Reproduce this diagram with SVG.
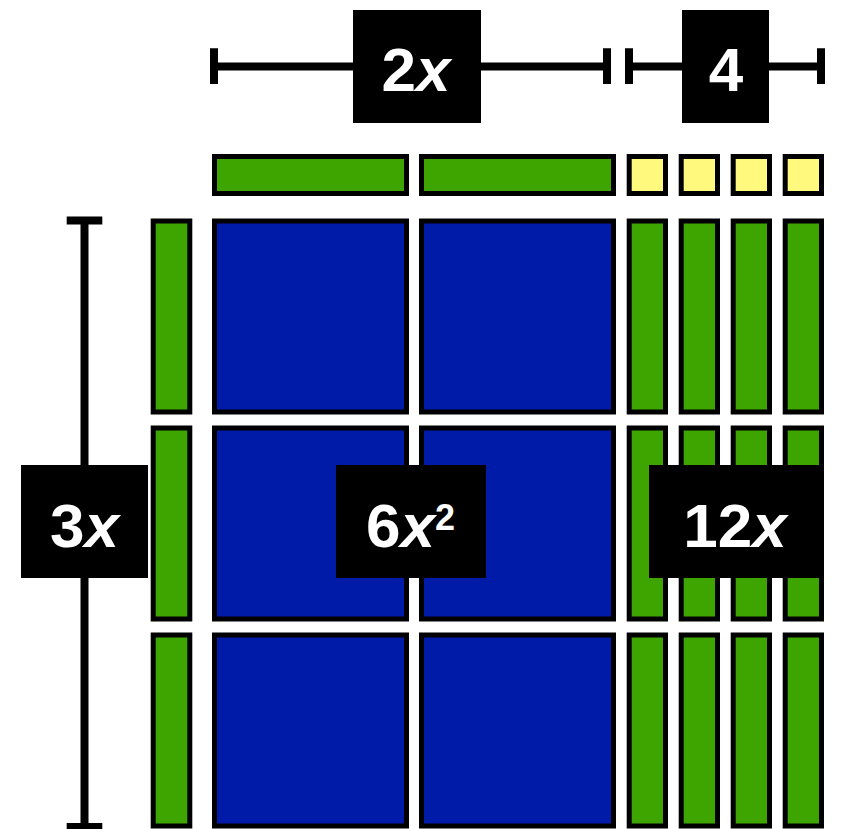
<svg xmlns="http://www.w3.org/2000/svg" width="842" height="829" viewBox="0 0 842 829">
<style>
.g{fill:#3EA500;stroke:#000;stroke-width:5}
.b{fill:#001BA8;stroke:#000;stroke-width:5}
.y{fill:#FFFA7D;stroke:#000;stroke-width:5}
.dim{stroke:#000;stroke-width:8;fill:none}
.lab{fill:#000}
.t{font-family:"Liberation Sans",Arial,sans-serif;font-weight:bold;font-size:62px;fill:#fff;text-anchor:middle}
.i{font-style:italic}
</style>
<rect width="842" height="829" fill="#fff"/>
<g id="tiles">
<g id="top-row">
<rect class="g" x="214.5" y="156.5" width="192" height="37"/>
<rect class="g" x="421.5" y="156.5" width="192" height="37"/>
<rect class="y" x="629.2" y="156.5" width="36.3" height="37"/>
<rect class="y" x="681.2" y="156.5" width="36.3" height="37"/>
<rect class="y" x="733.2" y="156.5" width="36.3" height="37"/>
<rect class="y" x="785.2" y="156.5" width="36.3" height="37"/>
</g>
<g id="row1">
<rect class="g" x="153.2" y="221" width="36.6" height="191"/>
<rect class="b" x="214.5" y="221" width="192" height="191"/>
<rect class="b" x="421.5" y="221" width="192" height="191"/>
<rect class="g" x="629.2" y="221" width="36.3" height="191"/>
<rect class="g" x="681.2" y="221" width="36.3" height="191"/>
<rect class="g" x="733.2" y="221" width="36.3" height="191"/>
<rect class="g" x="785.2" y="221" width="36.3" height="191"/>
</g>
<g id="row2">
<rect class="g" x="153.2" y="428" width="36.6" height="191"/>
<rect class="b" x="214.5" y="428" width="192" height="191"/>
<rect class="b" x="421.5" y="428" width="192" height="191"/>
<rect class="g" x="629.2" y="428" width="36.3" height="191"/>
<rect class="g" x="681.2" y="428" width="36.3" height="191"/>
<rect class="g" x="733.2" y="428" width="36.3" height="191"/>
<rect class="g" x="785.2" y="428" width="36.3" height="191"/>
</g>
<g id="row3">
<rect class="g" x="153.2" y="635" width="36.6" height="191"/>
<rect class="b" x="214.5" y="635" width="192" height="191"/>
<rect class="b" x="421.5" y="635" width="192" height="191"/>
<rect class="g" x="629.2" y="635" width="36.3" height="191"/>
<rect class="g" x="681.2" y="635" width="36.3" height="191"/>
<rect class="g" x="733.2" y="635" width="36.3" height="191"/>
<rect class="g" x="785.2" y="635" width="36.3" height="191"/>
</g>
</g>
<g id="connectors">
<path class="dim" d="M214 48.3V84M214 66.5H607M607 48.3V84"/>
<path class="dim" d="M629 48.3V84M629 66.5H821M821 48.3V84"/>
<path class="dim" d="M66.7 220.5H102.3M84.5 220.5V827M66.7 827H102.3"/>
</g>
<g id="label-2x">
<rect class="lab" x="353" y="10" width="128" height="113"/>
<text class="t" x="416" y="90.5">2<tspan class="i">x</tspan></text>
</g>
<g id="label-4">
<rect class="lab" x="682" y="10" width="87" height="113"/>
<text class="t" x="726" y="90.5">4</text>
</g>
<g id="label-3x">
<rect class="lab" x="21" y="465" width="127" height="113"/>
<text class="t" x="84.5" y="546.5">3<tspan class="i">x</tspan></text>
</g>
<g id="label-6x2">
<rect class="lab" x="336" y="465" width="150" height="113"/>
<text class="t" x="410.5" y="546.5">6<tspan class="i">x</tspan><tspan font-size="36" dy="-17">2</tspan></text>
</g>
<g id="label-12x">
<rect class="lab" x="649" y="465" width="175" height="113"/>
<text class="t" x="735" y="546.5">12<tspan class="i">x</tspan></text>
</g>
</svg>
